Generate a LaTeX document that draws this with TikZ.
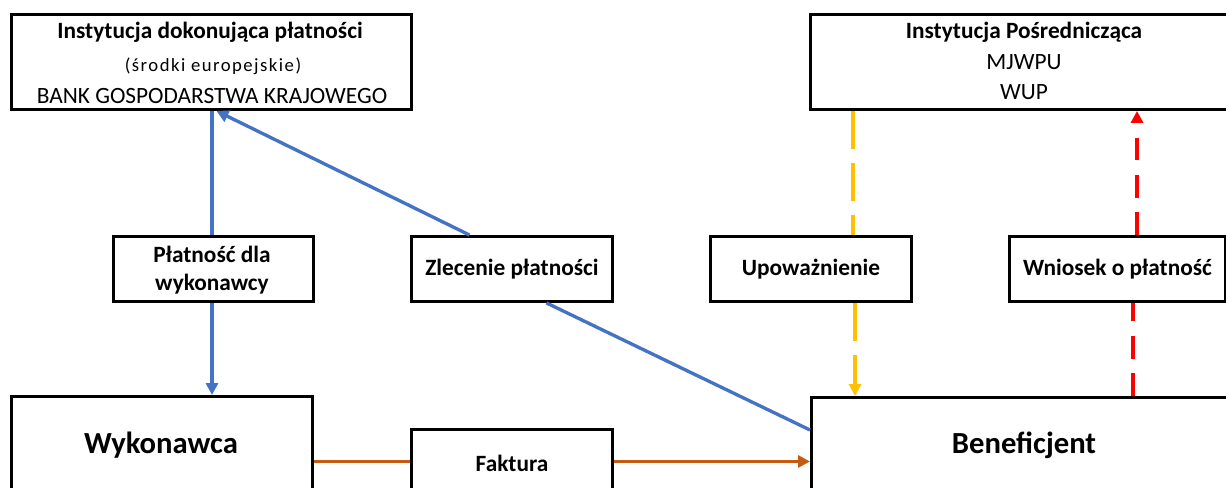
\documentclass[tikz,border=0pt]{standalone}
\usepackage{fontspec}
\setmainfont{Carlito}
\usetikzlibrary{arrows.meta,calc}
\definecolor{cblue}{HTML}{4472C4}
\definecolor{corange}{HTML}{C55A11}
\definecolor{cyellow}{HTML}{FFC000}
\definecolor{cred}{HTML}{FF0000}
\tikzset{
  box/.style={draw=black, line width=2.2pt, fill=white, inner sep=0pt, anchor=north west},
  lbl/.style={font=\fontsize{17.5}{20}\selectfont\bfseries, inner sep=0pt},
  big/.style={font=\fontsize{23}{27}\selectfont\bfseries, inner sep=0pt},
  reg/.style={font=\fontsize{17.5}{20}\selectfont, inner sep=0pt},
  small/.style={font=\fontsize{14}{16}\selectfont\addfontfeature{LetterSpace=8}, inner sep=0pt},
  bl/.style={draw=cblue, line width=2.5pt},
  ol/.style={draw=corange, line width=2.6pt},
  yl/.style={draw=cyellow, line width=2.6pt, dash pattern=on 28.5pt off 10.5pt},
  rl/.style={draw=cred, line width=3pt, dash pattern=on 17pt off 11pt},
  tip/.style={-{Triangle[length=9pt,width=9pt]}}
}
\begin{document}
\begin{tikzpicture}[x=0.75pt,y=-0.75pt]
\useasboundingbox (0,0) rectangle (1226,488);
\clip (0,0) rectangle (1226,488);
% boxes
\node[box, minimum width=300pt, minimum height=71.25pt] (bank) at (10,13) {};
\node[box, minimum width=315pt, minimum height=71.25pt] (ip) at (809,13) {};
\node[box, minimum width=150pt, minimum height=48.75pt] (plat) at (112,235) {};
\node[box, minimum width=150.75pt, minimum height=48.75pt, lbl] (zl) at (410,235) {Zlecenie płatności};
\node[box, minimum width=150.75pt, minimum height=48.75pt, lbl] (up) at (709,235) {Upoważnienie};
\node[box, minimum width=162pt, minimum height=48.75pt, lbl] (wn) at (1008,235) {Wniosek o płatność};
\node[box, minimum width=225.75pt, minimum height=100pt] (wyk) at (10,395) {};
\node[box, minimum width=150.75pt, minimum height=54pt] (fak) at (410,428) {};
\node[box, minimum width=320pt, minimum height=100pt] (ben) at (810,396) {};
% texts
\node[lbl] (t1) at (210,32) {Instytucja dokonująca płatności};
\node[small] (t2) at (213,66) {(środki europejskie)};
\node[reg] (t3) at (212,96) {BANK GOSPODARSTWA KRAJOWEGO};
\node[lbl] (t4) at (1024,32) {Instytucja Pośrednicząca};
\node[reg] (t5) at (1024,62) {MJWPU};
\node[reg] (t6) at (1024,92) {WUP};
\node[lbl] (t7) at (212,254) {Płatność dla};
\node[lbl] (t8) at (212,284) {wykonawcy};
\node[big] (t9) at (161,445) {Wykonawca};
\node[lbl] (t10) at (512,463) {Faktura};
\node[big] (t11) at (1024,445) {Beneficjent};
% coordinates
\coordinate (xy) at (853,0);
\coordinate (xy2) at (855,0);
\coordinate (xr) at (1137,0);
\coordinate (xr2) at (1133,0);
\coordinate (xp) at (212,0);
% blue connectors
\draw[bl] (xp |- plat.north) -- (xp |- bank.south);
\draw[bl, tip] ($(zl.north)+(-42.5,0)$) -- ($(bank.south)+(5,0)$);
\draw[bl] ($(zl.south)+(34.5,0)$) -- ($(ben.north west)+(0,34)$);
\draw[bl, tip] (xp |- plat.south) -- (xp |- wyk.north);
% orange
\draw[ol] ($(wyk.east |- fak.west)+(0,-4)$) -- ($(fak.west)+(0,-4)$);
\draw[ol, tip] ($(fak.east)+(0,-4)$) -- ($(ben.west |- fak.east)+(0,-4)$);
% yellow
\draw[yl] (xy |- ip.south) -- (xy |- up.north);
\draw[yl, tip] (xy2 |- up.south) -- (xy2 |- ben.north);
% red
\draw[rl] (xr2 |- ben.north) -- (xr2 |- wn.south);
\draw[rl, tip] (xr |- wn.north) -- (xr |- ip.south);
\end{tikzpicture}
\end{document}
